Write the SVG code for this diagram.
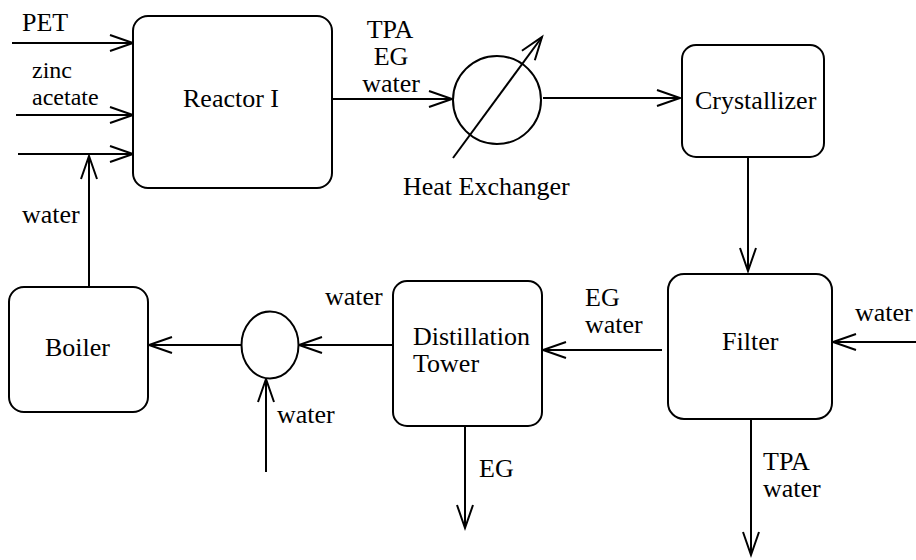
<svg xmlns="http://www.w3.org/2000/svg" width="916" height="560" viewBox="0 0 916 560">
<defs>
<marker id="arr" markerUnits="userSpaceOnUse" markerWidth="30" markerHeight="20" viewBox="-26 -10 30 20" refX="0" refY="0" orient="auto">
<path d="M-23,-8 L0,0 L-23,8" fill="none" stroke="#000" stroke-width="2"/>
</marker>
</defs>
<style>
.box{fill:#fff;stroke:#000;stroke-width:2}
.ar{fill:none;stroke:#000;stroke-width:2;marker-end:url(#arr)}
.t{font-family:'Liberation Serif','DejaVu Serif',serif;font-size:26px;fill:#000}
.s{font-size:24px}
.c{text-anchor:middle}
</style>
<rect width="916" height="560" fill="#fff"/>
<g id="connectors">
<line class="ar" x1="12" y1="43" x2="133" y2="43"/>
<line class="ar" x1="16" y1="115" x2="133" y2="115"/>
<line class="ar" x1="18" y1="154" x2="133" y2="154"/>
<line class="ar" x1="89" y1="287" x2="89" y2="156"/>
<line class="ar" x1="332" y1="99" x2="452" y2="99"/>
<line class="ar" x1="543" y1="98" x2="680" y2="98"/>
<line class="ar" x1="748" y1="157" x2="748" y2="271"/>
<line class="ar" x1="662" y1="350" x2="543" y2="350"/>
<line class="ar" x1="916" y1="342" x2="833" y2="342"/>
<line class="ar" x1="751" y1="419" x2="751" y2="555"/>
<line class="ar" x1="465" y1="426" x2="465" y2="528"/>
<line class="ar" x1="393" y1="345" x2="299" y2="345"/>
<line class="ar" x1="241" y1="345" x2="149" y2="345"/>
<line class="ar" x1="266" y1="472" x2="266" y2="379"/>
</g>
<g id="reactor">
<rect class="box" x="133" y="16" width="199" height="172" rx="15"/>
<text class="t" x="183" y="107" font-family="Liberation Serif, serif">Reactor I</text>
</g>
<g id="heat-exchanger">
<circle class="box" cx="497" cy="100" r="44"/>
<line class="ar" x1="453" y1="158" x2="542" y2="37"/>
<text class="t" x="403" y="195" font-family="Liberation Serif, serif">Heat Exchanger</text>
</g>
<g id="crystallizer">
<rect class="box" x="682" y="45" width="142" height="112" rx="14"/>
<text class="t" x="695" y="109" font-family="Liberation Serif, serif">Crystallizer</text>
</g>
<g id="filter">
<rect class="box" x="668" y="274" width="164" height="145" rx="16"/>
<text class="t" x="722" y="350" font-family="Liberation Serif, serif">Filter</text>
</g>
<g id="distillation">
<rect class="box" x="393" y="281" width="149" height="145" rx="14"/>
<text class="t" x="413" y="345" font-family="Liberation Serif, serif">Distillation</text>
<text class="t" x="413" y="372" font-family="Liberation Serif, serif">Tower</text>
</g>
<g id="mixer">
<ellipse class="box" cx="270" cy="345" rx="28.5" ry="33.5"/>
</g>
<g id="boiler">
<rect class="box" x="9" y="287" width="139" height="125" rx="15"/>
<text class="t" x="45" y="356" font-family="Liberation Serif, serif">Boiler</text>
</g>
<g id="labels" font-family="Liberation Serif, serif">
<text class="t" x="22" y="31">PET</text>
<text class="t s" x="32" y="78">zinc</text>
<text class="t s" x="32" y="105">acetate</text>
<text class="t" x="22" y="223">water</text>
<text class="t c" x="390" y="38">TPA</text>
<text class="t c" x="391" y="65">EG</text>
<text class="t c" x="391" y="92">water</text>
<text class="t" x="585" y="306">EG</text>
<text class="t" x="585" y="333">water</text>
<text class="t" x="855" y="321">water</text>
<text class="t" x="325" y="305">water</text>
<text class="t" x="277" y="423">water</text>
<text class="t" x="479" y="477">EG</text>
<text class="t" x="763" y="470">TPA</text>
<text class="t" x="763" y="497">water</text>
</g>
</svg>
